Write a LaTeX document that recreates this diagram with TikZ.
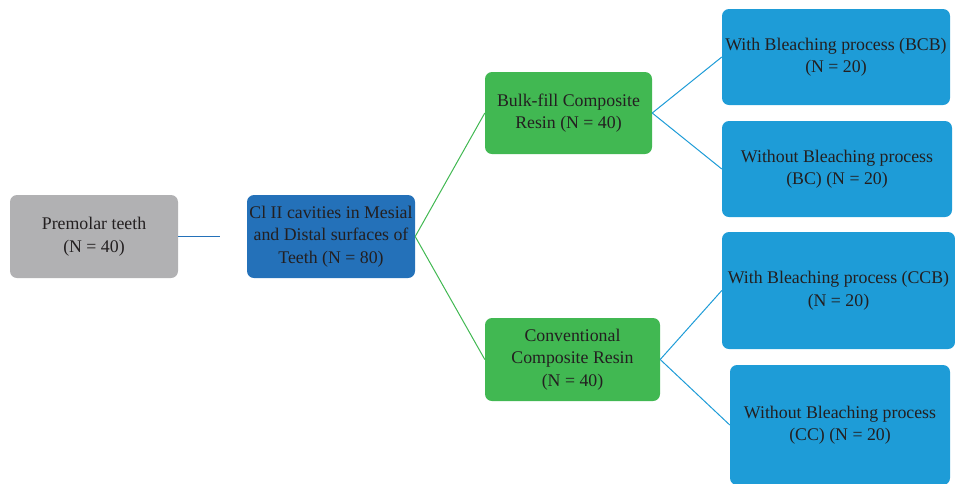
\documentclass[tikz,border=0pt]{standalone}
\usepackage{fontspec}
\setmainfont{Liberation Serif}
\definecolor{grayfill}{HTML}{B1B1B3}
\definecolor{darkblue}{HTML}{2471B9}
\definecolor{greenfill}{HTML}{41B852}
\definecolor{lightblue}{HTML}{1E9CD7}
\definecolor{txt}{HTML}{231F20}
\tikzset{
  box/.style={rounded corners=7pt, inner sep=0pt, align=center, text=txt,
    font=\fontsize{17.8}{22.5}\selectfont},
  graybox/.style={box, fill=grayfill},
  dbbox/.style={box, fill=darkblue},
  grbox/.style={box, fill=greenfill},
  lbbox/.style={box, fill=lightblue},
  dbline/.style={draw=darkblue, line width=1pt},
  grline/.style={draw=greenfill, line width=1pt},
  lbline/.style={draw=lightblue, line width=1pt},
}
\begin{document}
\begin{tikzpicture}[x=1pt,y=-1pt]
\useasboundingbox (0,0) rectangle (955,483);
\node[graybox, minimum width=168pt, minimum height=83pt] (pre) at (94,236.5) {Premolar teeth\\(N = 40)};
\node[dbbox, minimum width=168pt, minimum height=83pt] (cav) at (331,236.5) {Cl II cavities in Mesial\\and Distal surfaces of\\Teeth (N = 80)};
\node[grbox, minimum width=167pt, minimum height=82pt] (bulk) at (568.5,113) {Bulk-fill Composite\\Resin (N = 40)};
\node[grbox, minimum width=175pt, minimum height=83pt] (conv) at (572.5,359.5) {Conventional\\Composite Resin\\(N = 40)};
\node[lbbox, minimum width=228pt, minimum height=96pt] (bcb) at (836,57) {With Bleaching process (BCB)\\(N = 20)};
\node[lbbox, minimum width=230pt, minimum height=96pt] (bc) at (837,169) {Without Bleaching process\\(BC) (N = 20)};
\node[lbbox, minimum width=233pt, minimum height=117pt] (ccb) at (838.5,290.5) {With Bleaching process (CCB)\\(N = 20)};
\node[lbbox, minimum width=220pt, minimum height=120pt] (cc) at (840,425) {Without Bleaching process\\(CC) (N = 20)};
\coordinate (preend) at (220,236.5);
\draw[dbline] (pre.east) -- (preend);
\draw[grline] (cav.east) -- (bulk.west);
\draw[grline] (cav.east) -- (conv.west);
\draw[lbline] (bulk.east) -- (bcb.west);
\draw[lbline] (bulk.east) -- (bc.west);
\draw[lbline] (conv.east) -- (ccb.west);
\draw[lbline] (conv.east) -- (cc.west);
\end{tikzpicture}
\end{document}
